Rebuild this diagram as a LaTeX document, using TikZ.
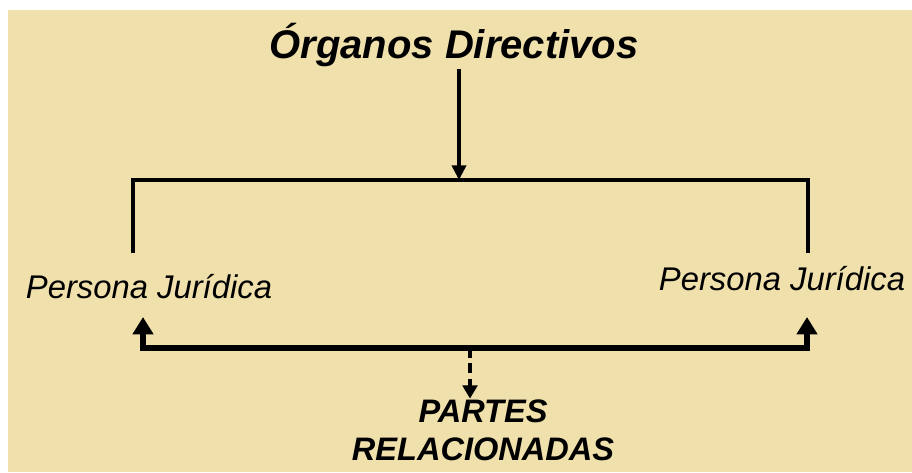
\documentclass[tikz,border=0pt]{standalone}
\usepackage{fontspec}
\setmainfont{Liberation Sans}
\usetikzlibrary{arrows.meta}
\definecolor{bg}{RGB}{239,224,172}
\begin{document}
\begin{tikzpicture}[x=0.75pt,y=-0.75pt,
  bracket/.style={line width=3.4pt},
  base/.style={line width=3.9pt},
  dashconn/.style={line width=2.7pt, dash pattern=on 7.5pt off 4pt, -{Triangle[width=11pt,length=10pt]}},
  titlefont/.style={font=\fontsize{30}{36}\selectfont\bfseries\itshape},
  pjfont/.style={font=\fontsize{24.6}{28}\selectfont\itshape},
  prfont/.style={font=\fontsize{24.4}{28.5}\selectfont\bfseries\itshape}]
\useasboundingbox (0,0) rectangle (912,472);
\fill[bg] (8,10) rectangle (912,472);
% nodes
\node[titlefont, anchor=base, inner sep=2pt] (title) at (454,58) {Órganos Directivos};
\node[pjfont, anchor=base] (pl) at (149,298) {Persona Jurídica};
\node[pjfont, anchor=base] (pr) at (782,290) {Persona Jurídica};
\node[prfont, anchor=north, align=center, inner sep=0pt] (partes) at (483,400) {PARTES\\RELACIONADAS};
% coordinates
\coordinate (jt) at (459,180);
\coordinate (bl) at (133,180);
\coordinate (br) at (808,180);
\coordinate (lend) at (133,253);
\coordinate (rend) at (808,253);
\coordinate (la) at (143,317);
\coordinate (ra) at (807,317);
\coordinate (lb) at (143,348);
\coordinate (rb) at (807,348);
\coordinate (dj) at (470,348);
% connectors
\draw[bracket, -{Triangle[width=10.5pt,length=11pt]}] (title.south -| jt) -- (jt);
\draw[bracket] (lend) -- (bl) -- (br) -- (rend);
\draw[base, {Triangle[width=15pt,length=13pt]}-{Triangle[width=15pt,length=13pt]}] (la) -- (lb) -- (rb) -- (ra);
\draw[dashconn] (dj) -- ([yshift=1pt]partes.north -| dj);
\end{tikzpicture}
\end{document}
